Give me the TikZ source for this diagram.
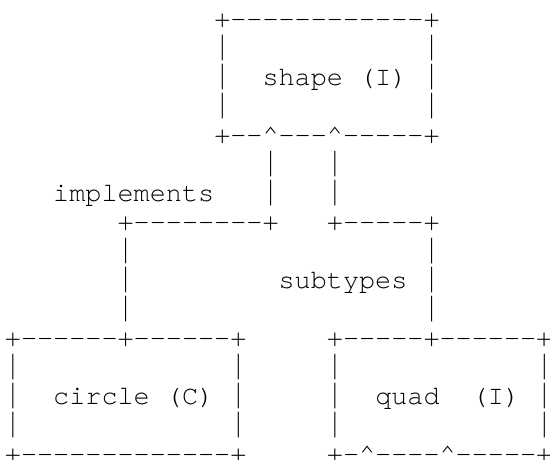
\documentclass[tikz,border=0pt]{standalone}
\usepackage{fontspec}
\usepackage{graphicx}
\setmonofont{TeX Gyre Cursor}
% one character cell: 16.1pt wide, 29pt high
\newcommand\upmark{\textasciicircum}
% a bar stretched to nearly fill its row, so stacked bars read as one line
\newcommand\vbar{\scalebox{1}[1.31]{|}}
\newcommand\asc[4]{\node[ascii] (#1) at (#2,#3) {#4};}
\begin{document}
\begin{tikzpicture}[x=16.1pt,y=-29pt,
  ascii/.style={anchor=base west,inner sep=0pt,outer sep=0pt,
    font=\ttfamily\fontsize{26.83}{29}\selectfont}]
\useasboundingbox (-4.95pt,27.7pt) rectangle (545.05pt,-432.3pt);
% shape (I)
\asc{shapeTop}{13}{0}{+------------+}
\asc{shapeLa}{13}{1}{\vbar}\asc{shapeRa}{26}{1}{\vbar}
\asc{shapeLb}{13}{2}{\vbar}\asc{shapeText}{16}{2}{shape (I)}\asc{shapeRb}{26}{2}{\vbar}
\asc{shapeLc}{13}{3}{\vbar}\asc{shapeRc}{26}{3}{\vbar}
\asc{shapeBot}{13}{4}{+--\upmark---\upmark-----+}
% links up to shape
\asc{implUpA}{16}{5}{\vbar}\asc{subUpA}{20}{5}{\vbar}
\asc{implText}{3}{6}{implements}
\asc{implUpB}{16}{6}{\vbar}\asc{subUpB}{20}{6}{\vbar}
\asc{implRun}{7}{7}{+--------+}\asc{subRun}{20}{7}{+-----+}
\asc{implDnA}{7}{8}{\vbar}\asc{subDnA}{26}{8}{\vbar}
\asc{implDnB}{7}{9}{\vbar}\asc{subText}{17}{9}{subtypes}\asc{subDnB}{26}{9}{\vbar}
\asc{implDnC}{7}{10}{\vbar}\asc{subDnC}{26}{10}{\vbar}
% circle (C)
\asc{circTop}{0}{11}{+------+------+}
\asc{circLa}{0}{12}{\vbar}\asc{circRa}{14}{12}{\vbar}
\asc{circLb}{0}{13}{\vbar}\asc{circText}{3}{13}{circle (C)}\asc{circRb}{14}{13}{\vbar}
\asc{circLc}{0}{14}{\vbar}\asc{circRc}{14}{14}{\vbar}
\asc{circBot}{0}{15}{+-------------+}
% quad (I)
\asc{quadTop}{20}{11}{+-----+------+}
\asc{quadLa}{20}{12}{\vbar}\asc{quadRa}{33}{12}{\vbar}
\asc{quadLb}{20}{13}{\vbar}\asc{quadWord}{23}{13}{quad}\asc{quadKind}{29}{13}{(I)}\asc{quadRb}{33}{13}{\vbar}
\asc{quadLc}{20}{14}{\vbar}\asc{quadRc}{33}{14}{\vbar}
\asc{quadBot}{20}{15}{+-\upmark----\upmark-----+}
\end{tikzpicture}
\end{document}
